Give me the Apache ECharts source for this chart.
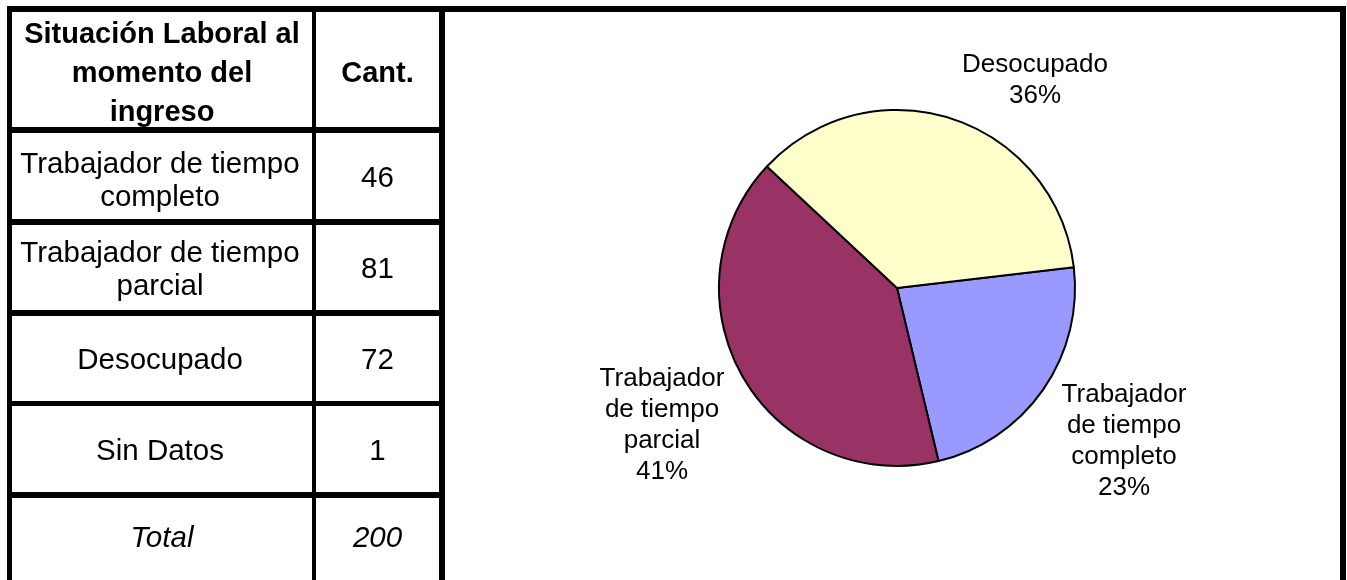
<!DOCTYPE html>
<html>
<head>
<meta charset="utf-8">
<title>Situación Laboral al momento del ingreso</title>
<script src="https://cdn.jsdelivr.net/npm/echarts@6/dist/echarts.min.js"></script>
<style>
  body { margin: 0; background: #fff; }
  #page {
    position: relative;
    width: 1347px;
    height: 580px;
    overflow: hidden;
    font-family: "Liberation Sans", Arial, sans-serif;
    color: #000;
  }
  #chart { position: absolute; left: 0; top: 0; width: 1347px; height: 580px; }
  .rule { position: absolute; background: #000; }
  .cell {
    position: absolute;
    display: flex;
    align-items: center;
    justify-content: center;
    text-align: center;
    white-space: pre-line;
    box-sizing: border-box;
  }
  .head { font-weight: bold; font-size: 29px; line-height: 39px; padding-top: 6px; }
  .body { font-size: 29.5px; line-height: 33px; }
  .first { padding-top: 6px; }
  .total { font-style: italic; }
</style>
</head>
<body>
<div id="page">
  <div id="chart"></div>
</div>
<script>
// table contents
const headerLabel = "Situación Laboral al\nmomento del\ningreso";
const headerCount = "Cant.";
const categories = [
  "Trabajador de tiempo completo",
  "Trabajador de tiempo parcial",
  "Desocupado",
  "Sin Datos",
];
const counts = [46, 81, 72, 1];
const totalLabel = "Total";
const totalCount = 200;

// the pie leaves out "Sin Datos"
const pieCategories = categories.slice(0, 3);
const pieValues = counts.slice(0, 3);
const pieColors = ["#9999FF", "#993366", "#FFFFCC"];

// frame layout (px)
const vRules = [[7, 5], [312, 4], [439, 6], [1340, 6]];           // x, width
const hRules = [[6, 6], [127, 6], [219, 6], [310, 6], [401, 5], [492, 6]]; // y, height
const tableRight = 445;
const lastRowBottom = 575;

const page = document.getElementById("page");

function addRule(x, y, w, h) {
  const d = document.createElement("div");
  d.className = "rule";
  d.style.left = x + "px";
  d.style.top = y + "px";
  d.style.width = w + "px";
  d.style.height = h + "px";
  page.appendChild(d);
}

function addCell(text, cls, x0, x1, y0, y1) {
  const d = document.createElement("div");
  d.className = "cell " + cls;
  d.style.left = x0 + "px";
  d.style.width = (x1 - x0) + "px";
  d.style.top = y0 + "px";
  d.style.height = (y1 - y0) + "px";
  d.textContent = text;
  page.appendChild(d);
}

// rules
hRules.forEach(([y, h], i) => {
  const right = i === 0 ? vRules[3][0] + vRules[3][1] : tableRight;
  addRule(vRules[0][0], y, right - vRules[0][0], h);
});
vRules.forEach(([x, w]) => addRule(x, hRules[0][0], w, 580 - hRules[0][0]));

// cells
const c0 = vRules[0][0] + vRules[0][1], c1 = vRules[1][0];
const c2 = vRules[1][0] + vRules[1][1], c3 = vRules[2][0];
const rowTop = i => hRules[i][0] + hRules[i][1];
const rowBottom = i => (i + 1 < hRules.length ? hRules[i + 1][0] : lastRowBottom);

addCell(headerLabel, "head", c0, c1, rowTop(0), rowBottom(0));
addCell(headerCount, "head", c2, c3, rowTop(0), rowBottom(0));
categories.forEach((name, i) => {
  const extra = i === 0 ? " first" : "";
  addCell(name, "body" + extra, c0 - 4, c1, rowTop(i + 1), rowBottom(i + 1));
  addCell(String(counts[i]), "body", c2, c3, rowTop(i + 1), rowBottom(i + 1));
});
const last = categories.length + 1;
addCell(totalLabel, "body total", c0, c1, rowTop(last), rowBottom(last));
addCell(String(totalCount), "body total", c2, c3, rowTop(last), rowBottom(last));

// label anchors beside the pie (Excel-style placement)
const labelPos = [[1124, 441], [662, 425], [1035, 80]];

const myChart = echarts.init(document.getElementById("chart"));
myChart.setOption({
  animation: false,
  series: [
    {
      type: "pie",
      center: [897, 288],
      radius: 178,
      startAngle: 6.7,
      clockwise: true,
      avoidLabelOverlap: false,
      data: pieCategories.map((name, i) => ({
        name,
        value: pieValues[i],
        itemStyle: { color: pieColors[i] },
      })),
      itemStyle: { borderColor: "#000", borderWidth: 2 },
      label: {
        show: true,
        position: "outside",
        color: "#000",
        fontFamily: "Liberation Sans",
        fontSize: 26,
        lineHeight: 31,
        formatter: (p) =>
          p.name.replace("Trabajador de tiempo ", "Trabajador\nde tiempo\n") +
          "\n" + Math.round(p.percent) + "%",
      },
      labelLine: { show: false },
      labelLayout: (p) => ({
        x: labelPos[p.dataIndex][0],
        y: labelPos[p.dataIndex][1],
        align: "center",
        verticalAlign: "middle",
      }),
      emphasis: { disabled: true },
    },
  ],
});
</script>
</body>
</html>
